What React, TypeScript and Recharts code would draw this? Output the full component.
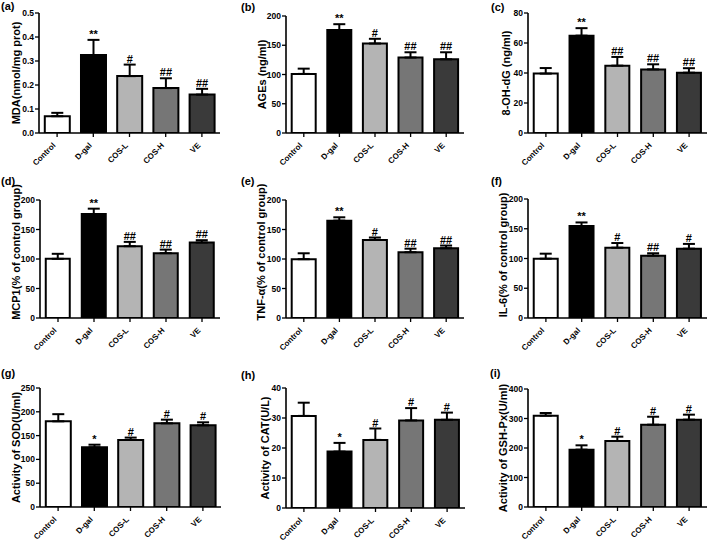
import React from 'react';
import { BarChart, Bar, XAxis, YAxis, ErrorBar, LabelList, Cell } from 'recharts';

const FONT = '"Liberation Sans", Arial, Helvetica, sans-serif';

const groups = ['Control', 'D-gal', 'COS-L', 'COS-H', 'VE'];
const groupColors = ['#ffffff', '#000000', '#b4b4b4', '#767676', '#3a3a3a'];

const mdaValues = [0.07, 0.325, 0.237, 0.187, 0.16];
const mdaErrors = [0.014, 0.063, 0.048, 0.041, 0.024];
const mdaSig = ['', '**', '#', '##', '##'];
const mdaTicks = [0, 0.1, 0.2, 0.3, 0.4, 0.5];

const agesValues = [101, 176, 153, 129, 126];
const agesErrors = [9, 10, 8, 9, 12];
const agesSig = ['', '**', '#', '##', '##'];
const agesTicks = [0, 50, 100, 150, 200];

const ohdgValues = [39.6, 64.9, 44.9, 42.4, 40.2];
const ohdgErrors = [3.7, 5, 5.8, 3.4, 3];
const ohdgSig = ['', '**', '##', '##', '##'];
const ohdgTicks = [0, 20, 40, 60, 80];

const mcpValues = [100.3, 176.3, 121.7, 109.9, 127.9];
const mcpErrors = [8.5, 9, 7.3, 6, 4];
const mcpSig = ['', '**', '##', '##', '##'];
const pctTicks = [0, 50, 100, 150, 200];

const tnfValues = [99.7, 165, 132.4, 111.5, 118.3];
const tnfErrors = [10, 5.7, 4, 6, 4.5];
const tnfSig = ['', '**', '#', '##', '##'];

const il6Values = [99.7, 154.6, 118.2, 104.8, 116.5];
const il6Errors = [8.4, 6, 7.8, 4, 8];
const il6Sig = ['', '**', '#', '##', '#'];

const sodValues = [180, 125.3, 140.8, 175.8, 171.6];
const sodErrors = [15, 5.6, 5, 7.7, 6.3];
const sodSig = ['', '*', '#', '#', '#'];
const sodTicks = [0, 50, 100, 150, 200, 250];

const catValues = [30.7, 18.8, 22.7, 29.2, 29.4];
const catErrors = [4.4, 2.9, 3.8, 4.1, 2.4];
const catSig = ['', '*', '#', '#', '#'];
const catTicks = [0, 10, 20, 30, 40];

const gshValues = [309.6, 194.4, 223.7, 279, 296];
const gshErrors = [9, 14.7, 14.7, 27, 17];
const gshSig = ['', '*', '#', '#', '#'];
const gshTicks = [0, 100, 200, 300, 400];

type PanelCfg = {
  letter: string;
  yLabel: string;
  values: number[];
  errors: number[];
  sig: string[];
  ticks: number[];
  decimals: number;
  x: number; y: number; w: number;
  plotLeft: number; plotRight: number; plotTop: number; plotBottom: number;
  labelX: number; labelY?: number;
  letterX: number; letterY: number;
};

const panels: PanelCfg[] = [
  { letter: '(a)', yLabel: 'MDA(nmol/mg prot)', values: mdaValues, errors: mdaErrors, sig: mdaSig, ticks: mdaTicks, decimals: 1,
    x: 0, y: 0, w: 236, plotLeft: 39, plotRight: 220, plotTop: 13, plotBottom: 133, labelX: 16, letterX: 1, letterY: 10 },
  { letter: '(b)', yLabel: 'AGEs (ng/ml)', values: agesValues, errors: agesErrors, sig: agesSig, ticks: agesTicks, decimals: 0,
    x: 236, y: 0, w: 234, plotLeft: 286, plotRight: 464, plotTop: 16, plotBottom: 133, labelX: 262, letterX: 241, letterY: 11 },
  { letter: '(c)', yLabel: '8-OH-dG (ng/ml)', values: ohdgValues, errors: ohdgErrors, sig: ohdgSig, ticks: ohdgTicks, decimals: 0,
    x: 470, y: 0, w: 239, plotLeft: 528, plotRight: 707, plotTop: 13, plotBottom: 133, labelX: 506, letterX: 491, letterY: 11 },
  { letter: '(d)', yLabel: 'MCP1(% of control group)', values: mcpValues, errors: mcpErrors, sig: mcpSig, ticks: pctTicks, decimals: 0,
    x: 0, y: 175, w: 236, plotLeft: 40, plotRight: 220, plotTop: 200, plotBottom: 318, labelX: 16, labelY: 252, letterX: 1, letterY: 185 },
  { letter: '(e)', yLabel: 'TNF-α(% of control group)', values: tnfValues, errors: tnfErrors, sig: tnfSig, ticks: pctTicks, decimals: 0,
    x: 236, y: 175, w: 234, plotLeft: 286, plotRight: 464, plotTop: 200, plotBottom: 318, labelX: 261, labelY: 252, letterX: 241, letterY: 185 },
  { letter: '(f)', yLabel: 'IL-6(% of control group)', values: il6Values, errors: il6Errors, sig: il6Sig, ticks: pctTicks, decimals: 0,
    x: 470, y: 175, w: 239, plotLeft: 528, plotRight: 707, plotTop: 199, plotBottom: 318, labelX: 503, labelY: 255, letterX: 491, letterY: 185 },
  { letter: '(g)', yLabel: 'Activity of SOD(U/ml)', values: sodValues, errors: sodErrors, sig: sodSig, ticks: sodTicks, decimals: 0,
    x: 0, y: 355, w: 236, plotLeft: 40, plotRight: 221, plotTop: 388, plotBottom: 507, labelX: 16, letterX: 1, letterY: 377 },
  { letter: '(h)', yLabel: 'Activity of CAT(U/L)', values: catValues, errors: catErrors, sig: catSig, ticks: catTicks, decimals: 0,
    x: 236, y: 355, w: 234, plotLeft: 286, plotRight: 465, plotTop: 388, plotBottom: 508, labelX: 265, letterX: 241, letterY: 379 },
  { letter: '(i)', yLabel: 'Activity of GSH-Px(U/ml)', values: gshValues, errors: gshErrors, sig: gshSig, ticks: gshTicks, decimals: 0,
    x: 470, y: 355, w: 239, plotLeft: 528, plotRight: 707, plotTop: 389, plotBottom: 507, labelX: 503, letterX: 490, letterY: 377 },
];

const XTick = (props: any) => {
  const { x, y, payload } = props;
  return (
    <g transform={`translate(${x - 1},${y + 9})`}>
      <text textAnchor="end" transform="rotate(-45)" fontSize={8} fontWeight={700} fontFamily={FONT} fill="#000">
        {payload.value}
      </text>
    </g>
  );
};

function Panel({ p }: { p: PanelCfg }) {
  const data = groups.map((g, i) => ({
    name: g,
    value: p.values[i],
    err: [0, p.errors[i]],
    errH: p.errors[i],
    sig: p.sig[i],
  }));
  const xAxisHeight = 48;
  const h = p.plotBottom - p.y + xAxisHeight;
  const yAxisWidth = p.plotLeft - p.x;
  const marginTop = p.plotTop - p.y;
  const marginRight = p.x + p.w - p.plotRight;
  const maxTick = p.ticks[p.ticks.length - 1];
  const lx = p.labelX - p.x;
  const ly = (p.labelY ?? (p.plotTop + p.plotBottom) / 2) - p.y;
  return (
    <div style={{ position: 'absolute', left: p.x, top: p.y, width: p.w, height: h }}>
      <BarChart
        width={p.w}
        height={h}
        data={data}
        margin={{ top: marginTop, right: marginRight, left: 0, bottom: 0 }}
        barCategoryGap="16%"
      >
        <XAxis
          dataKey="name"
          height={xAxisHeight}
          interval={0}
          tick={<XTick />}
          tickSize={4}
          tickMargin={0}
          axisLine={{ stroke: '#000', strokeWidth: 1.6 }}
          tickLine={{ stroke: '#000', strokeWidth: 1.3 }}
        />
        <YAxis
          width={yAxisWidth}
          domain={[0, maxTick]}
          ticks={p.ticks}
          interval={0}
          allowDataOverflow
          tickFormatter={(v: number) => v.toFixed(p.decimals)}
          tick={{ fontSize: 8.5, fontWeight: 700, fill: '#000', fontFamily: FONT }}
          tickSize={4}
          tickMargin={1}
          axisLine={{ stroke: '#000', strokeWidth: 1.6 }}
          tickLine={{ stroke: '#000', strokeWidth: 1.3 }}
          label={{
            content: () => (
              <text
                transform={`translate(${lx},${ly}) rotate(-90)`}
                textAnchor="middle"
                dominantBaseline="central"
                fontSize={11}
                fontWeight={700}
                fontFamily={FONT}
                fill="#000"
              >
                {p.yLabel}
              </text>
            ),
          }}
        />
        <Bar dataKey="value" stackId="s" stroke="#000" strokeWidth={2} isAnimationActive={false}>
          {data.map((d, i) => (
            <Cell key={d.name} fill={groupColors[i]} />
          ))}
          <ErrorBar dataKey="err" direction="y" width={6} stroke="#000" strokeWidth={2} />
        </Bar>
        <Bar dataKey="errH" stackId="s" fill="none" stroke="none" isAnimationActive={false}>
          <LabelList
            dataKey="sig"
            position="top"
            offset={2}
            fill="#000"
            style={{ fontSize: 11, fontWeight: 700, fontFamily: FONT }}
          />
        </Bar>
      </BarChart>
    </div>
  );
}

export default function App() {
  return (
    <div style={{ position: 'absolute', left: 0, top: 0, width: 709, height: 542, background: '#fff', overflow: 'hidden' }}>
      {panels.map((p) => (
        <Panel key={p.letter} p={p} />
      ))}
      <svg width={709} height={542} style={{ position: 'absolute', left: 0, top: 0, pointerEvents: 'none' }}>
        {panels.map((p) => (
          <text key={p.letter} x={p.letterX} y={p.letterY} fontSize={11} fontWeight={700} fontFamily={FONT} fill="#000">
            {p.letter}
          </text>
        ))}
      </svg>
    </div>
  );
}
